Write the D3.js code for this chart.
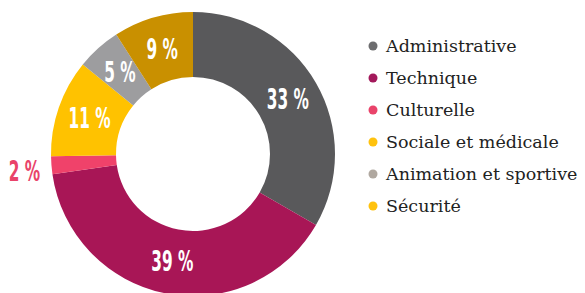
<!DOCTYPE html>
<html><head><meta charset="utf-8">
<script src="https://cdn.jsdelivr.net/npm/d3@7"></script>
<style>body{margin:0;background:#fff}svg{display:block}</style>
</head><body>
<svg id="c" width="585" height="293"></svg>
<script>
const categories = ["Administrative","Technique","Culturelle","Sociale et médicale","Animation et sportive","Sécurité"];
const values = [33,39,2,11,5,9];
const sliceColors = ["#59595b","#a81656","#f0426a","#ffc200","#9d9d9f","#c99000"];
const dotColors = ["#6d6d6f","#a3195b","#e9436a","#ffc20e","#b0a8a0","#ffc20e"];

const svg = d3.select("#c");
const cx = 193, cy = 154, rOut = 142, rIn = 77;
const g = svg.append("g").attr("transform", `translate(${cx},${cy})`);
const pie = d3.pie().sort(null).value(d => d);
const arcs = pie(values);
const arc = d3.arc().innerRadius(rIn).outerRadius(rOut);
g.selectAll("path").data(arcs).join("path")
  .attr("d", arc).attr("fill", (d,i) => sliceColors[i]);

const outArc = d3.arc().innerRadius(169).outerRadius(169);
g.selectAll("text.lbl").data(arcs).join("text")
  .attr("class","lbl")
  .attr("transform", d => {
    const [x,y] = (d.value < 3 ? outArc : arc).centroid(d);
    return `translate(${x},${y + (d.value < 3 ? 4 : 0)}) scale(0.62,1)`;
  })
  .attr("text-anchor","middle").attr("dy","0.36em")
  .attr("font-family","'DejaVu Sans Condensed','DejaVu Sans',sans-serif")
  .attr("font-weight","bold").attr("font-size",27.5)
  .attr("fill", d => d.value < 3 ? "#e9436a" : "#fff")
  .text(d => d.value + " %");

const leg = svg.append("g");
const ly = d3.scalePoint().domain(categories).range([46, 206]);
categories.forEach((c,i) => {
  leg.append("circle").attr("cx",373).attr("cy",ly(c)).attr("r",4.5).attr("fill",dotColors[i]);
  leg.append("text").attr("x",386).attr("y",ly(c)).attr("dy","0.36em")
    .attr("font-family","'DejaVu Serif',serif").attr("font-size",17.5).attr("fill","#222")
    .text(c);
});
</script>
</body></html>
